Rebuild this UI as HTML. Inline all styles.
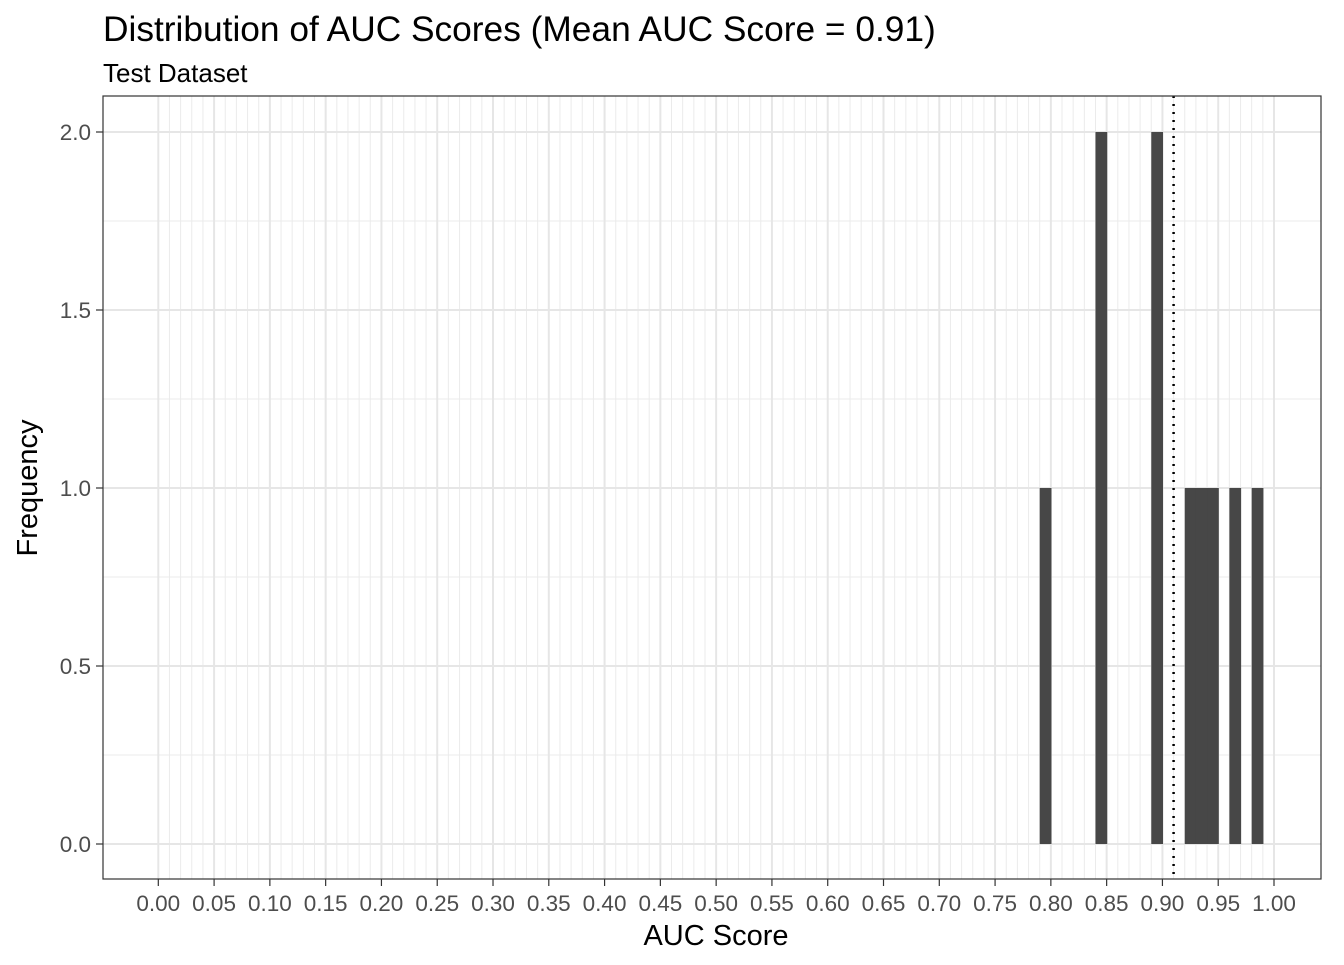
<!DOCTYPE html>
<html><head><meta charset="utf-8"><style>
body{margin:0;background:#fff;font-family:"Liberation Sans",Arial,sans-serif}
</style></head><body>
<svg width="1344" height="960" xmlns="http://www.w3.org/2000/svg" font-family="Liberation Sans, Arial, sans-serif">
<text x="103" y="41" font-size="35.3" fill="#000">Distribution of AUC Scores (Mean AUC Score = 0.91)</text>
<text x="103" y="82" font-size="26" fill="#000">Test Dataset</text>
<g id="grid"></g><g id="bars"></g><g id="axes"></g>
<rect x="103" y="96" width="1218" height="783" fill="none" stroke="#333" stroke-width="1.2"/>
<text x="716" y="945" font-size="29" text-anchor="middle">AUC Score</text>
<text transform="translate(37,488) rotate(-90)" font-size="29" text-anchor="middle">Frequency</text>
</svg>
<script>
const binStarts=[0.79,0.84,0.89,0.92,0.93,0.94,0.96,0.98];
const binCounts=[1,2,2,1,1,1,1,1];
const binWidth=0.01;
const meanAUC=0.91;
const xTicks=[0,0.05,0.1,0.15,0.2,0.25,0.3,0.35,0.4,0.45,0.5,0.55,0.6,0.65,0.7,0.75,0.8,0.85,0.9,0.95,1.0];
const yTicks=[0,0.5,1.0,1.5,2.0];
const NS="http://www.w3.org/2000/svg";
const X=v=>158.3+v*1115.7, Y=v=>844-v*356;
function mk(p,t,a){const e=document.createElementNS(NS,t);for(const k in a)e.setAttribute(k,a[k]);p.appendChild(e);return e;}
const g=document.getElementById('grid'),b=document.getElementById('bars'),ax=document.getElementById('axes');
for(let i=0;i<=100;i++){const v=i/100;if(i%5===0)continue;
 const l=mk(g,'line',{x1:X(v),x2:X(v),y1:96,y2:879,stroke:'#ebebeb','stroke-width':1});
 
 }
for(let i=0;i<4;i++){const v=yTicks[i]+0.25;
 const l=mk(g,'line',{x1:103,x2:1321,y1:Y(v),y2:Y(v),stroke:'#ebebeb','stroke-width':1});
 
 }
xTicks.forEach(v=>{
 const l=mk(g,'line',{x1:X(v),x2:X(v),y1:96,y2:879,stroke:'#e6e6e6','stroke-width':2});
 
 
 const t=mk(ax,'line',{x1:X(v),x2:X(v),y1:879,y2:886,stroke:'#333','stroke-width':1.2});
 
 
 const tx=mk(ax,'text',{x:X(v),y:911,'font-size':22.5,fill:'#4d4d4d','text-anchor':'middle'});
 tx.textContent=v.toFixed(2);
 
 });
yTicks.forEach(v=>{
 const l=mk(g,'line',{x1:103,x2:1321,y1:Y(v),y2:Y(v),stroke:'#e6e6e6','stroke-width':2});
 
 
 const t=mk(ax,'line',{x1:96,x2:103,y1:Y(v),y2:Y(v),stroke:'#333','stroke-width':1.2});
 
 
 const tx=mk(ax,'text',{x:91,y:Y(v)+8,'font-size':22.5,fill:'#4d4d4d','text-anchor':'end'});
 tx.textContent=v.toFixed(1);
 
 });
binStarts.forEach((s,i)=>{
 const r=mk(b,'rect',{x:X(s),y:Y(binCounts[i]),width:X(s+binWidth)-X(s)+0.6,height:Y(0)-Y(binCounts[i]),fill:'#474747'});
 
 });
const m=mk(b,'line',{x1:X(meanAUC),x2:X(meanAUC),y1:96,y2:879,stroke:'#000','stroke-width':2.5,'stroke-dasharray':'2 6'});


</script>
</body></html>
